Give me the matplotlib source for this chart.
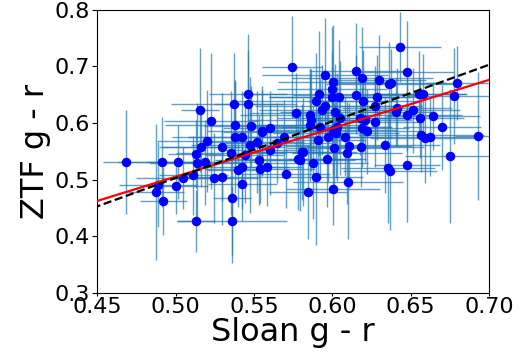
import numpy as np
import matplotlib
matplotlib.use("Agg")
import matplotlib.pyplot as plt

# colours
sloan_gr = [0.4685, 0.4915, 0.5017, 0.5138, 0.5189, 0.5163, 0.5202, 0.5131, 0.5048, 0.5112,
            0.5004, 0.4876, 0.4889, 0.4921, 0.5131, 0.5361, 0.5361, 0.5425, 0.5246, 0.5297,
            0.5297, 0.5355, 0.5380, 0.5425, 0.5476, 0.5520, 0.5552, 0.5693, 0.5807, 0.5782,
            0.5533, 0.5584, 0.5540, 0.5425, 0.5399, 0.5705, 0.5157, 0.5227, 0.5374, 0.5463,
            0.5463, 0.5380, 0.5482, 0.5552, 0.5603, 0.5744, 0.5769, 0.5858, 0.5954, 0.6005,
            0.6152, 0.6190, 0.6298, 0.6362, 0.6432, 0.6477, 0.6375, 0.6554, 0.6579, 0.6796,
            0.6777, 0.5916, 0.5999, 0.5999, 0.6043, 0.5897, 0.6152, 0.6286, 0.6196, 0.5954,
            0.6273, 0.5935, 0.6018, 0.6050, 0.5858, 0.6177, 0.6273, 0.6413, 0.6406, 0.6515,
            0.6477, 0.6560, 0.6643, 0.6700, 0.6566, 0.6592, 0.6624, 0.6930, 0.6751, 0.6477,
            0.6356, 0.6337, 0.6184, 0.6094, 0.6011, 0.6107, 0.5814, 0.5878, 0.5967, 0.5897,
            0.5846, 0.6005, 0.6101, 0.6005, 0.6190, 0.6222, 0.5922, 0.6031, 0.6024, 0.5795,
            0.6369, 0.5865, 0.6209, 0.5603, 0.5648, 0.5444, 0.5909, 0.5973, 0.6082]
ztf_gr = [0.531, 0.531, 0.531, 0.530, 0.531, 0.558, 0.569, 0.546, 0.503, 0.508,
          0.489, 0.478, 0.491, 0.463, 0.427, 0.427, 0.468, 0.493, 0.503, 0.505,
          0.558, 0.547, 0.576, 0.576, 0.561, 0.567, 0.584, 0.576, 0.549, 0.537,
          0.535, 0.523, 0.519, 0.523, 0.517, 0.510, 0.623, 0.604, 0.634, 0.652,
          0.634, 0.597, 0.595, 0.586, 0.592, 0.699, 0.618, 0.597, 0.685, 0.673,
          0.692, 0.680, 0.676, 0.669, 0.735, 0.690, 0.671, 0.652, 0.652, 0.671,
          0.648, 0.652, 0.660, 0.646, 0.646, 0.639, 0.650, 0.646, 0.639, 0.630,
          0.630, 0.623, 0.620, 0.609, 0.614, 0.609, 0.602, 0.627, 0.620, 0.623,
          0.615, 0.609, 0.613, 0.593, 0.579, 0.574, 0.576, 0.577, 0.542, 0.526,
          0.521, 0.561, 0.558, 0.547, 0.556, 0.560, 0.549, 0.530, 0.537, 0.505,
          0.478, 0.484, 0.496, 0.588, 0.592, 0.586, 0.593, 0.593, 0.583, 0.535,
          0.516, 0.606, 0.606, 0.553, 0.565, 0.544, 0.570, 0.576, 0.576]
sloan_err = [0.015, 0.028, 0.020, 0.030, 0.035, 0.025, 0.032, 0.018, 0.030, 0.022,
             0.020, 0.018, 0.025, 0.015, 0.012, 0.035, 0.012, 0.022, 0.028, 0.030,
             0.040, 0.035, 0.030, 0.045, 0.038, 0.030, 0.025, 0.030, 0.035, 0.040,
             0.028, 0.022, 0.035, 0.030, 0.020, 0.028, 0.012, 0.030, 0.040, 0.025,
             0.022, 0.045, 0.030, 0.035, 0.030, 0.019, 0.030, 0.035, 0.040, 0.035,
             0.030, 0.045, 0.030, 0.040, 0.026, 0.030, 0.035, 0.030, 0.028, 0.020,
             0.030, 0.050, 0.035, 0.040, 0.045, 0.050, 0.040, 0.030, 0.035, 0.045,
             0.030, 0.040, 0.035, 0.040, 0.045, 0.035, 0.030, 0.035, 0.025, 0.030,
             0.035, 0.028, 0.030, 0.025, 0.040, 0.035, 0.030, 0.015, 0.029, 0.021,
             0.030, 0.035, 0.040, 0.035, 0.030, 0.040, 0.030, 0.035, 0.025, 0.030,
             0.025, 0.030, 0.035, 0.040, 0.030, 0.035, 0.045, 0.035, 0.040, 0.035,
             0.030, 0.040, 0.030, 0.030, 0.035, 0.025, 0.030, 0.035, 0.030]
ztf_err = [0.092, 0.080, 0.065, 0.105, 0.075, 0.070, 0.090, 0.060, 0.055, 0.070,
           0.050, 0.120, 0.075, 0.060, 0.055, 0.060, 0.115, 0.065, 0.080, 0.085,
           0.095, 0.110, 0.100, 0.080, 0.120, 0.090, 0.075, 0.065, 0.085, 0.090,
           0.080, 0.070, 0.060, 0.075, 0.065, 0.060, 0.110, 0.120, 0.090, 0.105,
           0.095, 0.075, 0.070, 0.080, 0.065, 0.090, 0.070, 0.100, 0.100, 0.100,
           0.085, 0.090, 0.080, 0.075, 0.062, 0.090, 0.060, 0.075, 0.070, 0.065,
           0.085, 0.110, 0.110, 0.080, 0.100, 0.085, 0.070, 0.075, 0.090, 0.060,
           0.070, 0.080, 0.085, 0.100, 0.075, 0.065, 0.080, 0.070, 0.060, 0.075,
           0.065, 0.070, 0.060, 0.075, 0.065, 0.080, 0.070, 0.113, 0.118, 0.100,
           0.097, 0.085, 0.070, 0.090, 0.080, 0.075, 0.095, 0.100, 0.085, 0.120,
           0.083, 0.064, 0.100, 0.080, 0.070, 0.075, 0.085, 0.095, 0.080, 0.090,
           0.105, 0.090, 0.075, 0.080, 0.070, 0.085, 0.065, 0.080, 0.070]

# fitted relation (red) and the one-to-one line (black dashed)
fit_slope, fit_icpt = 0.855, 0.0778
one_slope, one_icpt = 1.0, 0.003

fig = plt.figure(figsize=(5.31, 3.64), dpi=100)
ax = fig.add_axes([0.183, 0.195, 0.738, 0.778])

ax.errorbar(sloan_gr, ztf_gr, xerr=sloan_err, yerr=ztf_err, fmt='none',
            ecolor='tab:blue', elinewidth=1, alpha=0.7, zorder=1)
ax.scatter(sloan_gr, ztf_gr, s=34, color='blue', zorder=2)

xx = np.linspace(0.44, 0.71, 50)
ax.plot(xx, fit_slope * xx + fit_icpt, color='red', lw=1.6, zorder=3)
ax.plot(xx, one_slope * xx + one_icpt, 'k--', lw=1.6, zorder=3)

ax.set_xlim(0.45, 0.70)
ax.set_ylim(0.3, 0.8)
ax.set_xticks([0.45, 0.50, 0.55, 0.60, 0.65, 0.70])
ax.set_yticks([0.3, 0.4, 0.5, 0.6, 0.7, 0.8])
ax.tick_params(labelsize=16)
ax.tick_params(axis='x', length=2.5, pad=0.5)
ax.tick_params(axis='y', pad=2)
ax.set_xlabel('Sloan g - r', fontsize=23, labelpad=0)
ax.set_ylabel('ZTF g - r', fontsize=23, labelpad=2)

fig.savefig('out.png', dpi=100)
